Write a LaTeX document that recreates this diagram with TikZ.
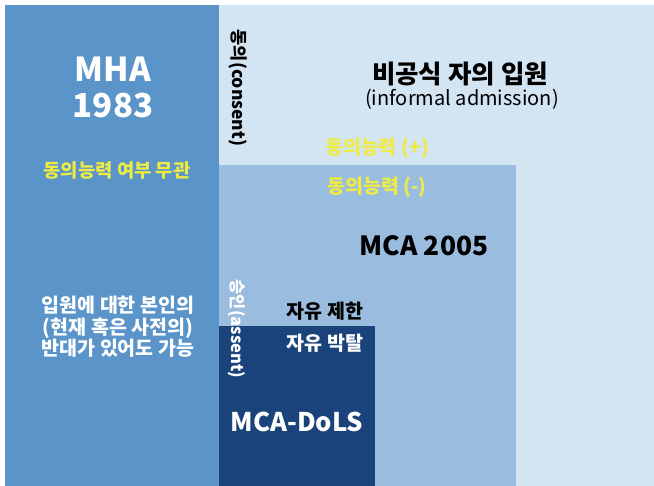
\documentclass[tikz,border=0pt]{standalone}
\usepackage{fontspec}
\setmainfont{Noto Sans CJK KR}
\definecolor{mhablue}{HTML}{5B94C8}
\definecolor{lightblue}{HTML}{D3E4F3}
\definecolor{midblue}{HTML}{9ABCDF}
\definecolor{navy}{HTML}{1B437B}
\definecolor{capyellow}{HTML}{EEEC44}
\tikzset{
  lbl/.style={inner sep=0pt, font=\bfseries, align=center},
}
\begin{document}
\begin{tikzpicture}[x=1pt,y=-1pt]
\useasboundingbox (0,0) rectangle (654,486);
\fill[white] (0,0) rectangle (654,486);
% regions
\fill[lightblue] (219,5) rectangle (654,486);
\fill[midblue] (219,165) rectangle (516,486);
\fill[navy] (219,326) rectangle (375,486);
\fill[mhablue] (5,5) rectangle (219,486);
% MHA texts
\node[lbl, text=white, font=\bfseries\fontsize{33}{37}\selectfont] (mha) at (113,69) {MHA};
\node[lbl, text=white, font=\bfseries\fontsize{33}{37}\selectfont] (mhayear) at (113,106) {1983};
\node[lbl, text=capyellow, font=\bfseries\fontsize{18.8}{22}\selectfont] (mhacap) at (117,170) {동의능력 여부 무관};
\node[lbl, text=white, font=\bfseries\fontsize{19.5}{21.5}\selectfont] (mhaobj) at (118,327) {입원에 대한 본인의\\(현재 혹은 사전의)\\반대가 있어도 가능};
% informal
\node[lbl, rotate=-90, text=black, font=\bfseries\fontsize{17.5}{20}\selectfont] (consent) at (238,88) {동의(consent)};
\node[lbl, text=black, font=\bfseries\fontsize{25.5}{30}\selectfont] (informal) at (460,74) {비공식 자의 입원};
\node[inner sep=0pt, text=black, font=\fontsize{20}{24}\selectfont] (informalen) at (462,99) {(informal admission)};
\node[lbl, text=capyellow, font=\bfseries\fontsize{19.5}{23}\selectfont] (capplus) at (377,148) {동의능력 (+)};
% MCA 2005
\node[lbl, text=capyellow, font=\bfseries\fontsize{19.5}{23}\selectfont] (capminus) at (377,187) {동의능력 (-)};
\node[lbl, text=black, font=\bfseries\fontsize{26.4}{30}\selectfont] (mca) at (424,246) {MCA 2005};
\node[lbl, rotate=-90, text=white, font=\bfseries\fontsize{16.5}{19}\selectfont] (assent) at (237,329) {승인(assent)};
\node[lbl, text=black, font=\bfseries\fontsize{19.5}{23}\selectfont] (restrict) at (325,311) {자유 제한};
% DoLS
\node[lbl, text=white, font=\bfseries\fontsize{19.5}{23}\selectfont] (deprive) at (325,343) {자유 박탈};
\node[lbl, text=white, font=\bfseries\fontsize{25.7}{30}\selectfont] (dols) at (297,422) {MCA-DoLS};
\end{tikzpicture}
\end{document}
